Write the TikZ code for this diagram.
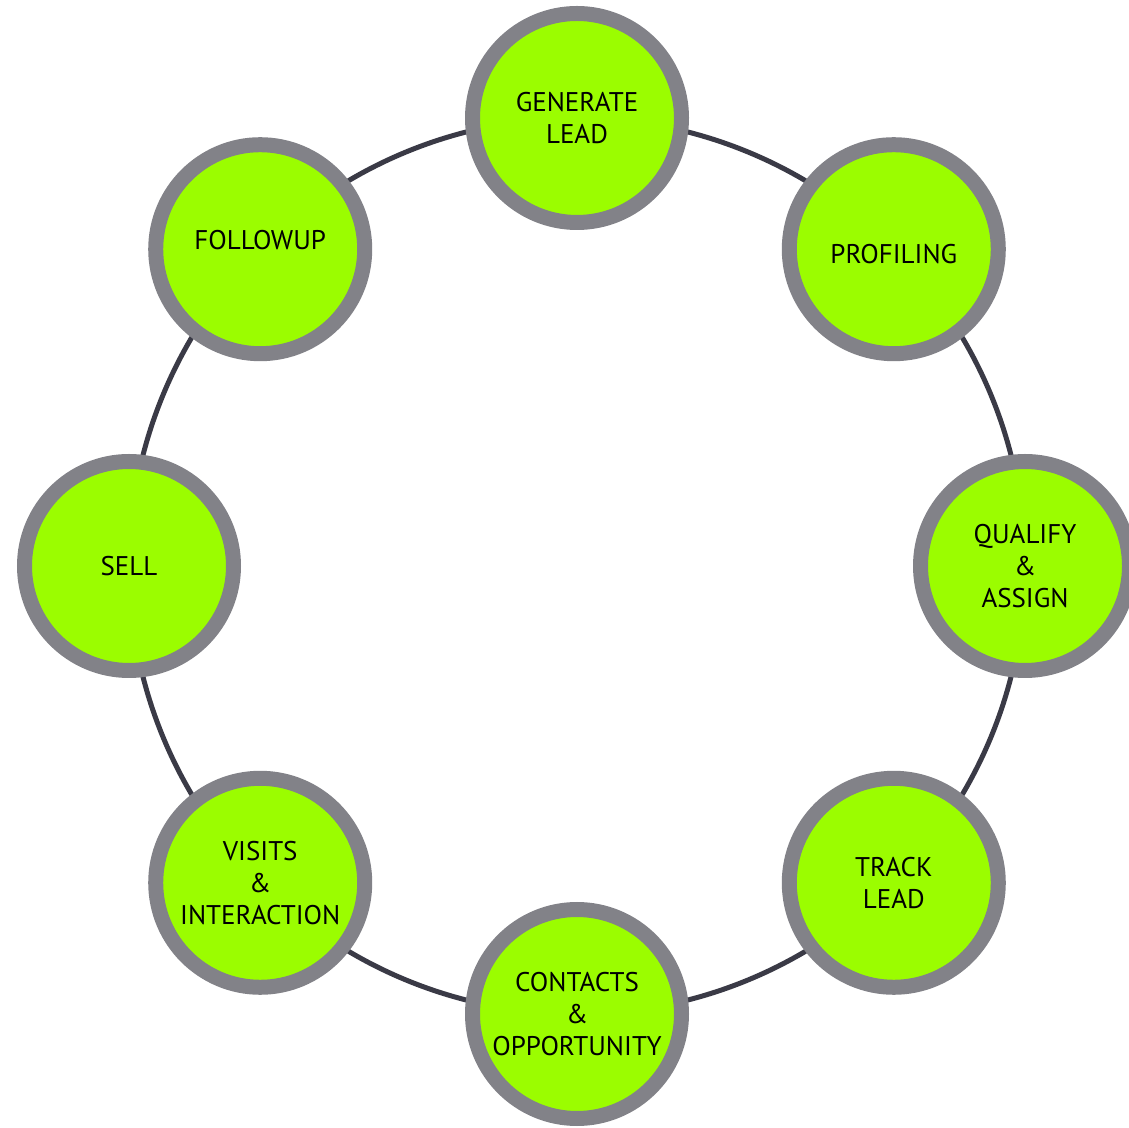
\documentclass[tikz,border=0pt]{standalone}
\usepackage{fontspec}
\setmainfont{PT Sans}
\usetikzlibrary{backgrounds,calc}
\definecolor{ringgray}{RGB}{130,130,136}
\definecolor{stepgreen}{RGB}{155,253,0}
\definecolor{linkgray}{RGB}{58,58,70}
\tikzset{
  stage/.style={circle, draw=ringgray, line width=15pt, fill=stepgreen,
    minimum size=209pt, inner sep=0pt, align=center, text=black,
    font=\fontsize{27}{32}\selectfont},
  link/.style={draw=linkgray, line width=5pt, bend left=22.5, looseness=0.885}
}
\begin{document}
\begin{tikzpicture}[x=1pt,y=1pt]
\useasboundingbox (0,0) rectangle (1129,1127);
\coordinate (c) at (577,561);
\node[stage] (gen) at ($(c)+(90:448)$) {GENERATE\\LEAD};
\node[stage] (prof) at ($(c)+(45:448)$) {\smash{\raisebox{-14pt}{PROFILING}}};
\node[stage] (qual) at ($(c)+(0:448)$) {QUALIFY\\\&\\ASSIGN};
\node[stage] (track) at ($(c)+(-45:448)$) {TRACK\\LEAD};
\node[stage] (cont) at ($(c)+(-90:448)$) {CONTACTS\\\&\\OPPORTUNITY};
\node[stage] (visit) at ($(c)+(-135:448)$) {VISITS\\\&\\INTERACTION};
\node[stage] (sell) at ($(c)+(180:448)$) {SELL};
\node[stage] (follow) at ($(c)+(135:448)$) {\smash{FOLLOWUP}};
\begin{scope}[on background layer]
\draw[link] (gen.center) to (prof.center);
\draw[link] (prof.center) to (qual.center);
\draw[link] (qual.center) to (track.center);
\draw[link] (track.center) to (cont.center);
\draw[link] (cont.center) to (visit.center);
\draw[link] (visit.center) to (sell.center);
\draw[link] (sell.center) to (follow.center);
\draw[link] (follow.center) to (gen.center);
\end{scope}
\end{tikzpicture}
\end{document}
